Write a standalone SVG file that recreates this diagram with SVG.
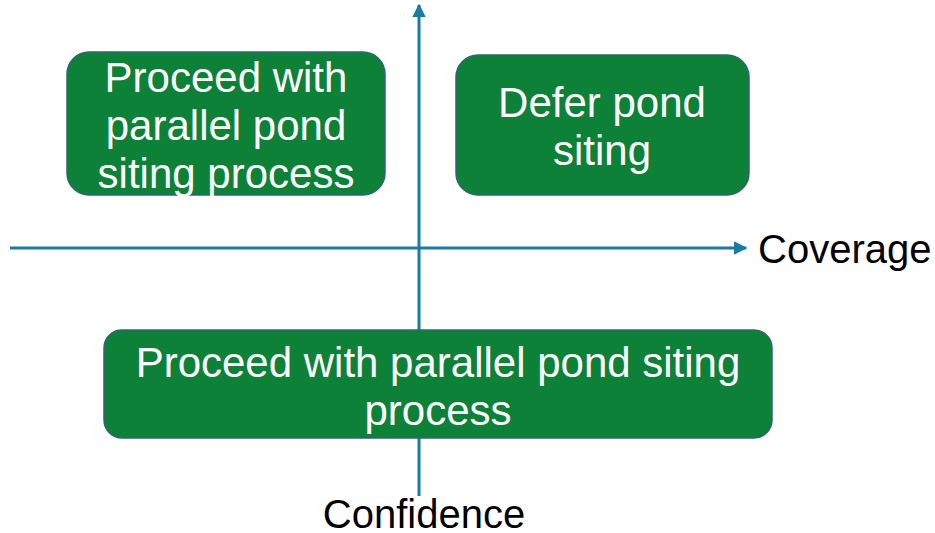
<svg xmlns="http://www.w3.org/2000/svg" width="935" height="533" viewBox="0 0 935 533">
  <style>
    .box { fill: #0e8139; stroke: #2f6673; stroke-width: 1.5; }
    .btxt { fill: #ffffff; font-family: "Liberation Sans", Arial, sans-serif; font-size: 42px; text-anchor: middle; }
    .axis { stroke: #1a7ca3; stroke-width: 3; fill: none; }
    .lbl { fill: #000000; font-family: "Liberation Sans", Arial, sans-serif; font-size: 40px; }
  </style>
  <defs>
    <marker id="arrow" viewBox="0 0 10 10" refX="9" refY="5" markerWidth="4.5" markerHeight="4.5" orient="auto" markerUnits="strokeWidth">
      <path d="M0,0 L10,5 L0,10 z" fill="#1a7ca3"/>
    </marker>
  </defs>
  <rect width="935" height="533" fill="#ffffff"/>

  <g id="connectors">
    <line class="axis" x1="419" y1="496" x2="419" y2="5" marker-end="url(#arrow)"/>
    <line class="axis" x1="10" y1="248" x2="746" y2="248" marker-end="url(#arrow)"/>
  </g>

  <g id="node-top-left">
    <rect class="box" x="67" y="52" width="318" height="143" rx="22"/>
    <text class="btxt" x="226" y="92">Proceed with</text>
    <text class="btxt" x="226" y="140">parallel pond</text>
    <text class="btxt" x="226" y="188">siting process</text>
  </g>

  <g id="node-top-right">
    <rect class="box" x="456" y="55" width="293" height="140" rx="22"/>
    <text class="btxt" x="602" y="117">Defer pond</text>
    <text class="btxt" x="602" y="165">siting</text>
  </g>

  <g id="node-bottom">
    <rect class="box" x="104" y="330" width="668" height="108" rx="18"/>
    <text class="btxt" x="438" y="377">Proceed with parallel pond siting</text>
    <text class="btxt" x="438" y="425">process</text>
  </g>

  <g id="axis-labels">
    <text class="lbl" x="758" y="263">Coverage</text>
    <text class="lbl" x="424" y="528" text-anchor="middle">Confidence</text>
  </g>
</svg>
